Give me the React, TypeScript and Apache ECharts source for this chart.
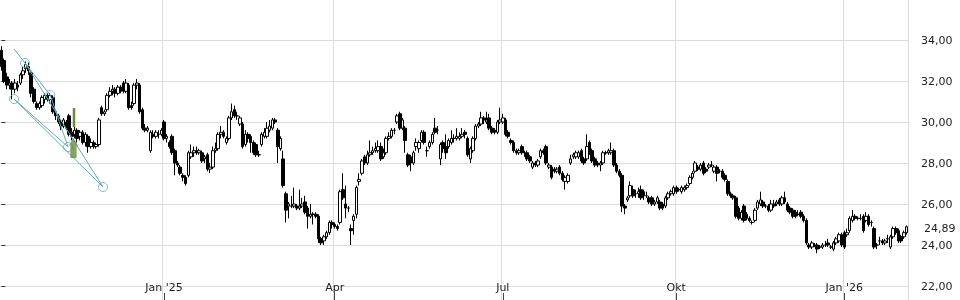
import { useEffect, useRef } from 'react';
import * as echarts from 'echarts';

type Candle = [number, number, number, number]; // [open, close, low, high]

const oct24: Candle[] = [
  [33.5, 32.7, 32.5, 33.7], [33.0, 32.0, 31.9, 33.1], [32.2, 31.8, 31.6, 32.4], [31.8, 31.9, 31.6, 32.1],
  [31.9, 31.6, 31.1, 32.0], [31.6, 31.9, 31.4, 32.1], [31.8, 31.7, 31.5, 32.0], [31.9, 32.3, 31.8, 32.4],
  [32.3, 32.5, 32.1, 32.7], [32.6, 32.8, 32.4, 32.95], [32.7, 32.5, 32.3, 32.9], [32.4, 31.4, 31.2, 32.5],
  [31.6, 31.0, 30.9, 31.7], [30.9, 30.7, 30.6, 31.0], [30.7, 30.9, 30.6, 31.0], [30.8, 31.2, 30.7, 31.3],
  [31.1, 31.3, 30.9, 31.4], [31.3, 31.1, 31.0, 31.4], [31.1, 31.3, 30.9, 31.4], [31.2, 30.5, 30.4, 31.3],
  [30.5, 30.3, 30.1, 30.6],
];
const nov24: Candle[] = [
  [30.3, 30.0, 29.9, 30.4], [30.0, 29.8, 29.6, 30.1], [29.8, 30.1, 29.7, 30.2], [30.0, 29.7, 29.6, 30.1],
  [30.3, 29.4, 29.3, 30.4], [29.5, 29.3, 29.1, 29.7], [29.4, 29.6, 29.2, 29.8], [29.6, 29.2, 29.0, 29.7],
  [29.3, 29.5, 29.1, 29.6], [29.5, 29.0, 28.9, 29.6], [29.0, 29.4, 28.8, 29.5], [29.3, 28.8, 28.5, 29.4],
  [28.8, 29.0, 28.7, 29.2], [29.0, 28.8, 28.7, 29.1], [28.8, 28.9, 28.7, 29.0], [28.9, 30.1, 28.8, 30.2],
  [30.7, 30.4, 30.3, 30.8], [30.4, 30.5, 30.3, 30.6], [30.6, 31.3, 30.5, 31.4], [31.3, 31.5, 31.2, 31.7],
  [31.5, 31.6, 31.3, 31.8],
];
const dec24: Candle[] = [
  [31.6, 31.4, 31.2, 31.7], [31.4, 31.7, 31.3, 31.8], [31.7, 31.5, 31.4, 31.8], [31.9, 31.5, 31.4, 32.0],
  [31.5, 31.9, 31.4, 32.1], [31.8, 30.7, 30.6, 31.9], [30.8, 30.7, 30.6, 31.0], [30.9, 31.8, 30.8, 31.9],
  [31.8, 31.9, 31.6, 32.1], [31.8, 30.5, 30.4, 31.9], [30.6, 29.7, 29.6, 30.7], [29.7, 29.6, 29.5, 29.9],
  [29.6, 29.7, 29.5, 29.8], [28.6, 29.5, 28.5, 29.6], [29.4, 29.3, 29.2, 29.6], [29.3, 29.5, 29.2, 29.6],
  [29.4, 29.4, 29.2, 29.6], [29.4, 29.6, 29.3, 29.7],
];
const jan25: Candle[] = [
  [30.0, 29.2, 29.1, 30.1], [29.2, 29.3, 29.0, 29.4], [29.0, 28.8, 28.7, 29.1], [29.3, 28.5, 28.4, 29.4],
  [28.6, 28.0, 27.4, 28.7], [28.0, 27.9, 27.8, 28.1], [27.8, 27.5, 27.4, 27.9], [27.4, 27.3, 27.1, 27.5],
  [27.3, 27.0, 26.9, 27.4], [27.4, 28.5, 27.3, 28.6], [28.3, 28.5, 28.2, 28.9], [28.5, 28.6, 28.3, 28.8],
  [28.6, 28.5, 28.4, 28.8], [28.5, 28.6, 28.4, 28.7], [28.5, 28.1, 28.0, 28.6], [28.2, 28.3, 28.0, 28.4],
  [28.4, 27.7, 27.6, 28.5], [27.7, 27.8, 27.5, 28.0], [27.8, 28.6, 27.7, 28.8], [28.6, 28.7, 28.5, 29.0],
  [28.7, 29.4, 28.6, 29.5], [29.4, 29.5, 29.2, 29.8],
];
const feb25: Candle[] = [
  [29.5, 29.3, 29.2, 29.6], [29.0, 29.2, 28.9, 29.3], [29.2, 30.2, 29.1, 30.3], [30.2, 30.5, 30.1, 30.9],
  [30.6, 30.3, 30.2, 30.8], [30.3, 30.3, 30.1, 30.5], [29.9, 30.2, 29.8, 30.3], [29.9, 28.8, 28.7, 30.0],
  [28.9, 29.4, 28.8, 29.6], [29.4, 29.2, 29.0, 29.5], [29.3, 29.0, 28.5, 29.4], [29.0, 28.5, 28.4, 29.1],
  [28.9, 28.4, 28.3, 29.0], [28.4, 28.4, 28.3, 28.6], [28.9, 29.4, 28.8, 29.5], [29.3, 29.5, 29.2, 29.7],
  [29.3, 29.7, 29.2, 30.0], [29.6, 29.8, 29.5, 30.1], [29.7, 30.1, 29.6, 30.2], [30.1, 30.0, 29.9, 30.2],
];
const mar25: Candle[] = [
  [29.6, 28.8, 28.0, 29.7], [28.7, 29.2, 28.6, 29.3], [28.2, 26.9, 26.8, 28.6], [26.5, 25.7, 25.1, 26.6],
  [25.9, 26.0, 25.3, 26.1], [25.9, 25.9, 25.8, 26.4], [25.9, 26.0, 25.8, 26.8], [25.9, 25.8, 25.7, 26.0],
  [25.8, 25.9, 25.7, 26.7], [25.9, 26.0, 25.8, 26.3], [26.1, 25.6, 25.5, 26.4], [25.8, 25.4, 24.8, 25.9],
  [25.4, 25.5, 25.3, 26.0], [25.5, 25.5, 25.0, 25.6], [25.5, 25.4, 25.3, 25.6], [25.4, 24.3, 24.1, 25.5],
  [24.3, 24.1, 24.0, 24.4], [24.2, 24.4, 24.0, 24.5], [24.4, 24.6, 24.3, 24.7], [24.6, 25.1, 24.5, 25.2],
  [25.1, 25.0, 24.8, 25.2],
];
const apr25: Candle[] = [
  [25.0, 24.9, 24.8, 25.1], [24.9, 24.8, 24.7, 25.0], [25.1, 26.6, 25.0, 26.7], [26.7, 26.3, 26.2, 27.5],
  [26.0, 25.8, 25.3, 26.9], [25.8, 25.8, 25.6, 25.9], [24.8, 24.7, 24.0, 25.0], [25.2, 25.4, 24.5, 25.5],
  [25.5, 26.8, 25.3, 26.9], [27.1, 27.2, 26.9, 27.5], [27.5, 28.1, 27.4, 28.2], [28.3, 28.0, 27.9, 28.4],
  [28.0, 28.4, 27.9, 28.6], [28.4, 28.5, 28.3, 29.1], [28.5, 28.6, 28.4, 28.8], [28.6, 28.7, 28.5, 29.0],
  [28.6, 28.8, 28.5, 29.1], [28.8, 28.2, 28.1, 29.0], [28.3, 28.5, 28.2, 28.7], [28.5, 29.2, 28.4, 29.3],
];
const may25: Candle[] = [
  [29.2, 29.3, 29.1, 29.5], [29.3, 29.6, 29.2, 29.7], [29.6, 29.6, 29.4, 29.7], [30.0, 30.3, 29.9, 30.4],
  [30.4, 29.7, 29.6, 30.5], [29.7, 30.1, 29.6, 30.2], [29.7, 29.1, 28.5, 29.8], [28.4, 27.9, 27.8, 28.5],
  [28.3, 28.0, 27.6, 28.4], [28.0, 28.5, 27.9, 28.6], [28.8, 29.0, 28.6, 29.2], [28.7, 29.0, 28.5, 29.1],
  [29.1, 29.5, 29.0, 29.6], [29.5, 29.0, 28.9, 29.6], [28.6, 28.6, 28.3, 28.8], [28.8, 29.0, 28.7, 29.1],
  [29.0, 29.4, 28.9, 29.5], [29.7, 29.5, 29.4, 30.2], [29.6, 29.6, 29.4, 29.8], [28.2, 28.9, 27.9, 29.0],
  [29.0, 28.7, 28.5, 29.1],
];
const jun25: Candle[] = [
  [28.8, 28.5, 28.2, 29.4], [28.8, 29.1, 28.7, 29.2], [29.0, 29.2, 28.9, 29.6], [29.2, 29.2, 29.0, 29.4],
  [29.2, 29.3, 29.1, 29.7], [29.2, 29.3, 29.1, 29.5], [29.3, 29.4, 29.2, 29.7], [29.5, 29.4, 29.2, 29.6],
  [29.2, 28.4, 28.3, 29.3], [28.2, 28.7, 28.0, 28.8], [28.6, 29.2, 28.5, 29.3], [29.2, 29.8, 29.1, 29.9],
  [29.8, 29.9, 29.7, 30.0], [29.9, 30.2, 29.8, 30.5], [30.2, 30.1, 29.9, 30.3], [30.0, 30.1, 29.9, 30.5],
  [30.2, 29.7, 29.6, 30.4], [29.7, 29.5, 29.4, 29.8], [29.6, 29.5, 29.4, 29.7], [29.5, 30.0, 29.4, 30.1],
  [30.0, 30.1, 29.9, 30.7],
];
const jul25: Candle[] = [
  [30.0, 30.2, 29.9, 30.4], [30.1, 29.4, 29.3, 30.2], [29.5, 29.3, 29.2, 29.6], [29.1, 29.0, 28.9, 29.2],
  [29.0, 28.6, 28.5, 29.1], [28.6, 28.5, 28.4, 28.7], [28.5, 28.6, 28.4, 28.7], [28.8, 28.5, 28.4, 28.9],
  [28.5, 28.5, 28.3, 28.6], [28.5, 28.2, 28.1, 28.6], [28.3, 28.1, 28.0, 28.4], [27.8, 28.0, 27.7, 28.1],
  [28.0, 27.9, 27.8, 28.1], [27.9, 28.1, 27.8, 28.2], [28.3, 28.6, 28.2, 28.7], [28.6, 28.5, 28.4, 28.7],
  [28.8, 28.0, 27.9, 28.9], [27.8, 27.9, 27.7, 28.0], [27.8, 27.3, 27.2, 27.9], [27.7, 27.6, 27.5, 27.8],
  [27.6, 27.7, 27.5, 27.8], [27.8, 27.5, 27.4, 27.9], [27.5, 27.2, 27.1, 27.6],
];
const aug25: Candle[] = [
  [27.1, 27.3, 26.7, 27.4], [27.1, 27.4, 27.0, 27.5], [28.0, 28.2, 27.9, 28.4], [28.3, 28.4, 28.2, 28.5],
  [28.3, 28.5, 28.2, 28.6], [28.3, 28.5, 28.2, 28.6], [28.6, 28.1, 28.0, 28.7], [28.2, 28.0, 27.9, 28.3],
  [28.2, 28.8, 28.1, 29.4], [29.0, 28.5, 28.4, 29.1], [28.6, 28.1, 28.0, 28.7], [28.2, 27.9, 27.8, 28.3],
  [28.0, 27.9, 27.8, 28.1], [27.9, 28.0, 27.6, 28.1], [28.0, 28.5, 27.9, 28.6], [28.5, 28.5, 28.4, 28.6],
  [28.5, 28.6, 28.4, 28.7], [28.5, 28.6, 28.4, 29.0], [28.6, 27.9, 27.8, 28.7], [27.9, 27.6, 27.5, 28.0],
];
const sep25: Candle[] = [
  [27.6, 27.4, 27.3, 27.7], [27.4, 25.9, 25.6, 27.5], [25.9, 25.8, 25.5, 26.0], [26.2, 26.3, 26.1, 26.4],
  [26.4, 26.9, 26.3, 27.1], [26.7, 26.4, 26.3, 26.9], [26.5, 26.5, 26.3, 26.7], [26.5, 26.6, 26.3, 26.8],
  [26.7, 26.3, 26.2, 26.9], [26.6, 26.4, 26.2, 26.7], [26.4, 26.4, 26.3, 26.6], [26.3, 26.1, 26.0, 26.4],
  [26.3, 26.0, 25.9, 26.4], [26.0, 26.1, 25.9, 26.2], [26.1, 26.3, 26.0, 26.4], [26.1, 25.8, 25.7, 26.2],
  [26.0, 25.8, 25.7, 26.1], [25.9, 26.3, 25.8, 26.4], [26.3, 26.5, 26.2, 26.6], [26.5, 26.6, 26.4, 26.7],
  [26.5, 26.8, 26.4, 26.9],
];
const oct25: Candle[] = [
  [26.8, 26.6, 26.5, 26.9], [26.7, 26.7, 26.6, 26.8], [26.6, 26.8, 26.5, 26.9], [26.7, 26.8, 26.6, 26.9],
  [26.8, 26.9, 26.7, 27.0], [27.0, 27.3, 26.9, 27.4], [27.3, 27.5, 27.2, 27.6], [27.6, 28.0, 27.5, 28.1],
  [27.8, 27.7, 27.6, 27.9], [27.7, 27.9, 27.6, 28.0], [28.0, 27.5, 27.4, 28.1], [27.7, 27.6, 27.5, 27.8],
  [27.8, 27.9, 27.7, 28.0], [27.9, 27.9, 27.8, 28.1], [27.6, 27.8, 27.5, 27.9], [27.8, 27.5, 27.1, 27.9],
  [27.6, 27.6, 27.5, 27.7], [27.6, 27.3, 27.2, 27.7], [27.4, 27.2, 27.1, 27.5], [27.1, 26.5, 26.4, 27.2],
  [26.5, 26.4, 26.3, 26.6], [26.4, 26.3, 26.2, 26.5], [26.3, 25.4, 25.3, 26.4],
];
const nov25: Candle[] = [
  [25.8, 25.3, 25.2, 25.9], [25.3, 25.6, 25.2, 25.7], [25.9, 25.2, 25.1, 26.0], [25.5, 25.3, 25.2, 25.6],
  [25.3, 25.2, 25.1, 25.4], [25.1, 25.1, 25.0, 25.2], [25.2, 25.7, 25.1, 25.8], [25.8, 26.1, 25.7, 26.2],
  [26.0, 26.2, 25.9, 26.6], [26.1, 25.9, 25.8, 26.2], [25.9, 25.9, 25.8, 26.0], [25.9, 25.7, 25.6, 26.0],
  [25.7, 26.0, 25.6, 26.2], [26.0, 25.9, 25.8, 26.2], [26.0, 26.1, 25.9, 26.2], [26.2, 26.0, 25.9, 26.3],
  [26.0, 26.3, 25.9, 26.4], [26.3, 26.1, 26.0, 26.6], [26.0, 25.7, 25.6, 26.1], [25.8, 25.6, 25.5, 25.9],
];
const dec25: Candle[] = [
  [25.7, 25.4, 25.3, 25.8], [25.6, 25.4, 25.3, 25.7], [25.5, 25.5, 25.4, 25.7], [25.6, 25.4, 25.3, 25.7],
  [25.4, 25.2, 25.1, 25.5], [25.2, 24.1, 24.0, 25.3], [24.0, 23.9, 23.8, 24.1], [23.9, 24.1, 23.8, 24.2],
  [24.0, 24.0, 23.9, 24.1], [24.0, 23.8, 23.6, 24.1], [23.9, 23.9, 23.8, 24.0], [23.9, 24.0, 23.8, 24.1],
  [24.0, 24.0, 23.9, 24.2], [24.1, 24.0, 23.9, 24.3], [23.9, 23.9, 23.8, 24.0], [23.8, 24.1, 23.7, 24.2],
  [24.1, 24.3, 24.0, 24.4], [24.2, 24.5, 24.1, 24.6], [24.5, 24.0, 23.9, 24.6],
];
const jan26: Candle[] = [
  [24.6, 23.9, 23.8, 24.7], [24.5, 24.6, 24.4, 24.8], [24.7, 25.3, 24.6, 25.4], [25.2, 25.4, 25.1, 25.7],
  [25.4, 25.3, 25.2, 25.5], [25.3, 25.3, 25.2, 25.4], [25.3, 25.3, 25.2, 25.5], [25.4, 24.7, 24.6, 25.5],
  [25.2, 25.4, 25.1, 25.6], [25.4, 25.0, 24.9, 25.5], [25.1, 25.1, 24.9, 25.2], [24.8, 23.9, 23.8, 24.9],
  [24.0, 24.0, 23.8, 24.1], [24.2, 24.2, 24.0, 24.4], [24.2, 24.1, 24.0, 24.3], [24.1, 24.2, 24.0, 24.3],
  [24.3, 24.3, 24.1, 24.5], [23.9, 24.4, 23.8, 24.5], [24.4, 24.8, 24.3, 24.9], [24.8, 24.6, 24.5, 24.9],
  [24.7, 24.2, 24.1, 24.8],
];
const feb26: Candle[] = [
  [24.4, 24.2, 24.1, 24.5], [24.4, 24.6, 24.3, 24.7], [24.6, 24.89, 24.5, 24.95],
];

const candles: Candle[] = [
  ...oct24, ...nov24, ...dec24, ...jan25, ...feb25, ...mar25, ...apr25, ...may25, ...jun25,
  ...jul25, ...aug25, ...sep25, ...oct25, ...nov25, ...dec25, ...jan26, ...feb26,
];

// calendar of the trading days shown
const firstDay = '2024-10-03';
const lastDay = '2026-02-04';
const closedDays = [
  '2024-12-24', '2024-12-25', '2024-12-26', '2024-12-31', '2025-01-01', '2025-04-18', '2025-04-21',
  '2025-05-01', '2025-12-24', '2025-12-25', '2025-12-26', '2025-12-31', '2026-01-01',
  '2025-08-07', '2025-09-17',
];
const quarterLabels: Record<string, string> = { '01': 'Jan', '04': 'Apr', '07': 'Jul', '10': 'Okt' };

const yMin = 20;
const yMax = 36;
const yStep = 2;
const lastClose = 24.89;

// trend-line drawing (x in trading-day index, y in price)
const trendPoints: Record<string, [number, number]> = {
  P0: [4.7, 33.56],
  A: [8.7, 32.88],
  B: [18.0, 31.32],
  C: [4.7, 31.12],
  D: [24.6, 28.78],
  E: [37.5, 26.83],
};
const trendSegments: [string, string][] = [['P0', 'B'], ['B', 'D'], ['A', 'E'], ['C', 'D'], ['C', 'E']];
const trendCircles = ['A', 'B', 'C', 'D', 'E'];
// signal marker: arrow and highlighted bar
const arrowPoint: [number, number] = [26.6, 28.73];
const signalBar: [number, number][] = [[26.8, 30.68], [26.8, 29.76]];

const TEAL = '#62abb6';
const GREEN = '#6b8a3c';
const FONT = 'DejaVu Sans';

function iso(t: number) {
  const d = new Date(t);
  return `${d.getUTCFullYear()}-${String(d.getUTCMonth() + 1).padStart(2, '0')}-${String(d.getUTCDate()).padStart(2, '0')}`;
}

function buildDays(): string[] {
  const out: string[] = [];
  const closed = new Set(closedDays);
  const end = Date.parse(lastDay + 'T00:00:00Z');
  for (let t = Date.parse(firstDay + 'T00:00:00Z'); t <= end; t += 86400000) {
    const wd = new Date(t).getUTCDay();
    const s = iso(t);
    if (wd === 0 || wd === 6 || closed.has(s)) continue;
    out.push(s);
  }
  return out;
}

export default function App() {
  const ref = useRef<HTMLDivElement>(null);
  useEffect(() => {
    const el = ref.current!;
    const chart = echarts.init(el, null, { renderer: 'svg' });
    const days = buildDays().slice(0, candles.length);
    const n = days.length;
    const isQuarterStart = (i: number) =>
      i > 0 && days[i].slice(5, 7) !== days[i - 1].slice(5, 7) && quarterLabels[days[i].slice(5, 7)] !== undefined;

    const trendSeries = trendSegments.map(([a, b]) => ({
      type: 'line',
      xAxisIndex: 1,
      data: [trendPoints[a], trendPoints[b]],
      symbol: 'none',
      silent: true,
      z: 5,
      lineStyle: { color: TEAL, width: 1 },
    }));

    chart.setOption({
      animation: false,
      grid: { left: 0, right: 52, top: -1, height: 328, outerBoundsMode: 'none', containLabel: false },
      xAxis: [
        {
          type: 'category',
          data: days,
          boundaryGap: true,
          axisLine: { show: false },
          axisTick: {
            show: true,
            inside: true,
            length: 34,
            alignWithLabel: true,
            interval: (i: number) => isQuarterStart(i),
            lineStyle: { color: '#444' },
          },
          axisLabel: {
            inside: true,
            margin: 34,
            interval: (i: number) => isQuarterStart(i),
            fontFamily: FONT,
            fontSize: 11,
            color: '#222',
            formatter: (v: string) => {
              const m = v.slice(5, 7);
              return m === '01' ? `Jan '${v.slice(2, 4)}` : quarterLabels[m];
            },
          },
          splitLine: {
            show: true,
            interval: (i: number) => isQuarterStart(i),
            lineStyle: { color: '#dcdcdc', width: 1 },
          },
        },
        { type: 'value', min: -0.5, max: n - 0.5, show: false },
      ],
      yAxis: {
        type: 'value',
        position: 'right',
        min: yMin,
        max: yMax,
        interval: yStep,
        axisLine: { show: false },
        axisTick: { show: true, length: 4, lineStyle: { color: '#333' } },
        axisLabel: {
          margin: 13,
          fontFamily: FONT,
          fontSize: 11,
          color: '#222',
          formatter: (v: number) => (v < 22 || v > 34 ? '' : v.toFixed(2).replace('.', ',')),
        },
        splitLine: { show: true, lineStyle: { color: '#dcdcdc', width: 1 } },
      },
      series: [
        {
          type: 'candlestick',
          data: candles,
          barWidth: 3,
          itemStyle: {
            color: '#ffffff',
            color0: '#000000',
            borderColor: '#000000',
            borderColor0: '#000000',
            borderColorDoji: '#000000',
            borderWidth: 1,
          },
          markLine: {
            silent: true,
            symbol: 'none',
            lineStyle: { color: 'rgba(0,0,0,0)', width: 1, type: 'solid' },
            label: {
              show: true,
              position: 'end',
              distance: 16,
              offset: [0, 2],
              fontFamily: FONT,
              fontSize: 11,
              color: '#222',
              formatter: () => lastClose.toFixed(2).replace('.', ','),
            },
            data: [{ yAxis: lastClose }],
          },
        },
        ...trendSeries,
        {
          type: 'scatter',
          xAxisIndex: 1,
          data: trendCircles.map((k) => trendPoints[k]),
          symbol: 'circle',
          symbolSize: 9,
          silent: true,
          z: 6,
          itemStyle: { color: 'rgba(255,255,255,0)', borderColor: TEAL, borderWidth: 1 },
        },
        {
          type: 'line',
          xAxisIndex: 1,
          data: signalBar,
          symbol: 'none',
          silent: true,
          z: 6,
          lineStyle: { color: GREEN, width: 2.5, cap: 'butt' },
        },
        {
          type: 'scatter',
          xAxisIndex: 1,
          data: [arrowPoint],
          symbol: 'path://M5,0 L10,6 L8.5,6 L8.5,16 L1.5,16 L1.5,6 L0,6 Z',
          symbolSize: [9, 20],
          symbolKeepAspect: false,
          silent: true,
          z: 6,
          itemStyle: { color: GREEN },
        },
      ],
    });
    return () => chart.dispose();
  }, []);
  return <div ref={ref} style={{ position: 'fixed', left: 0, top: 0, width: 960, height: 300 }} />;
}
